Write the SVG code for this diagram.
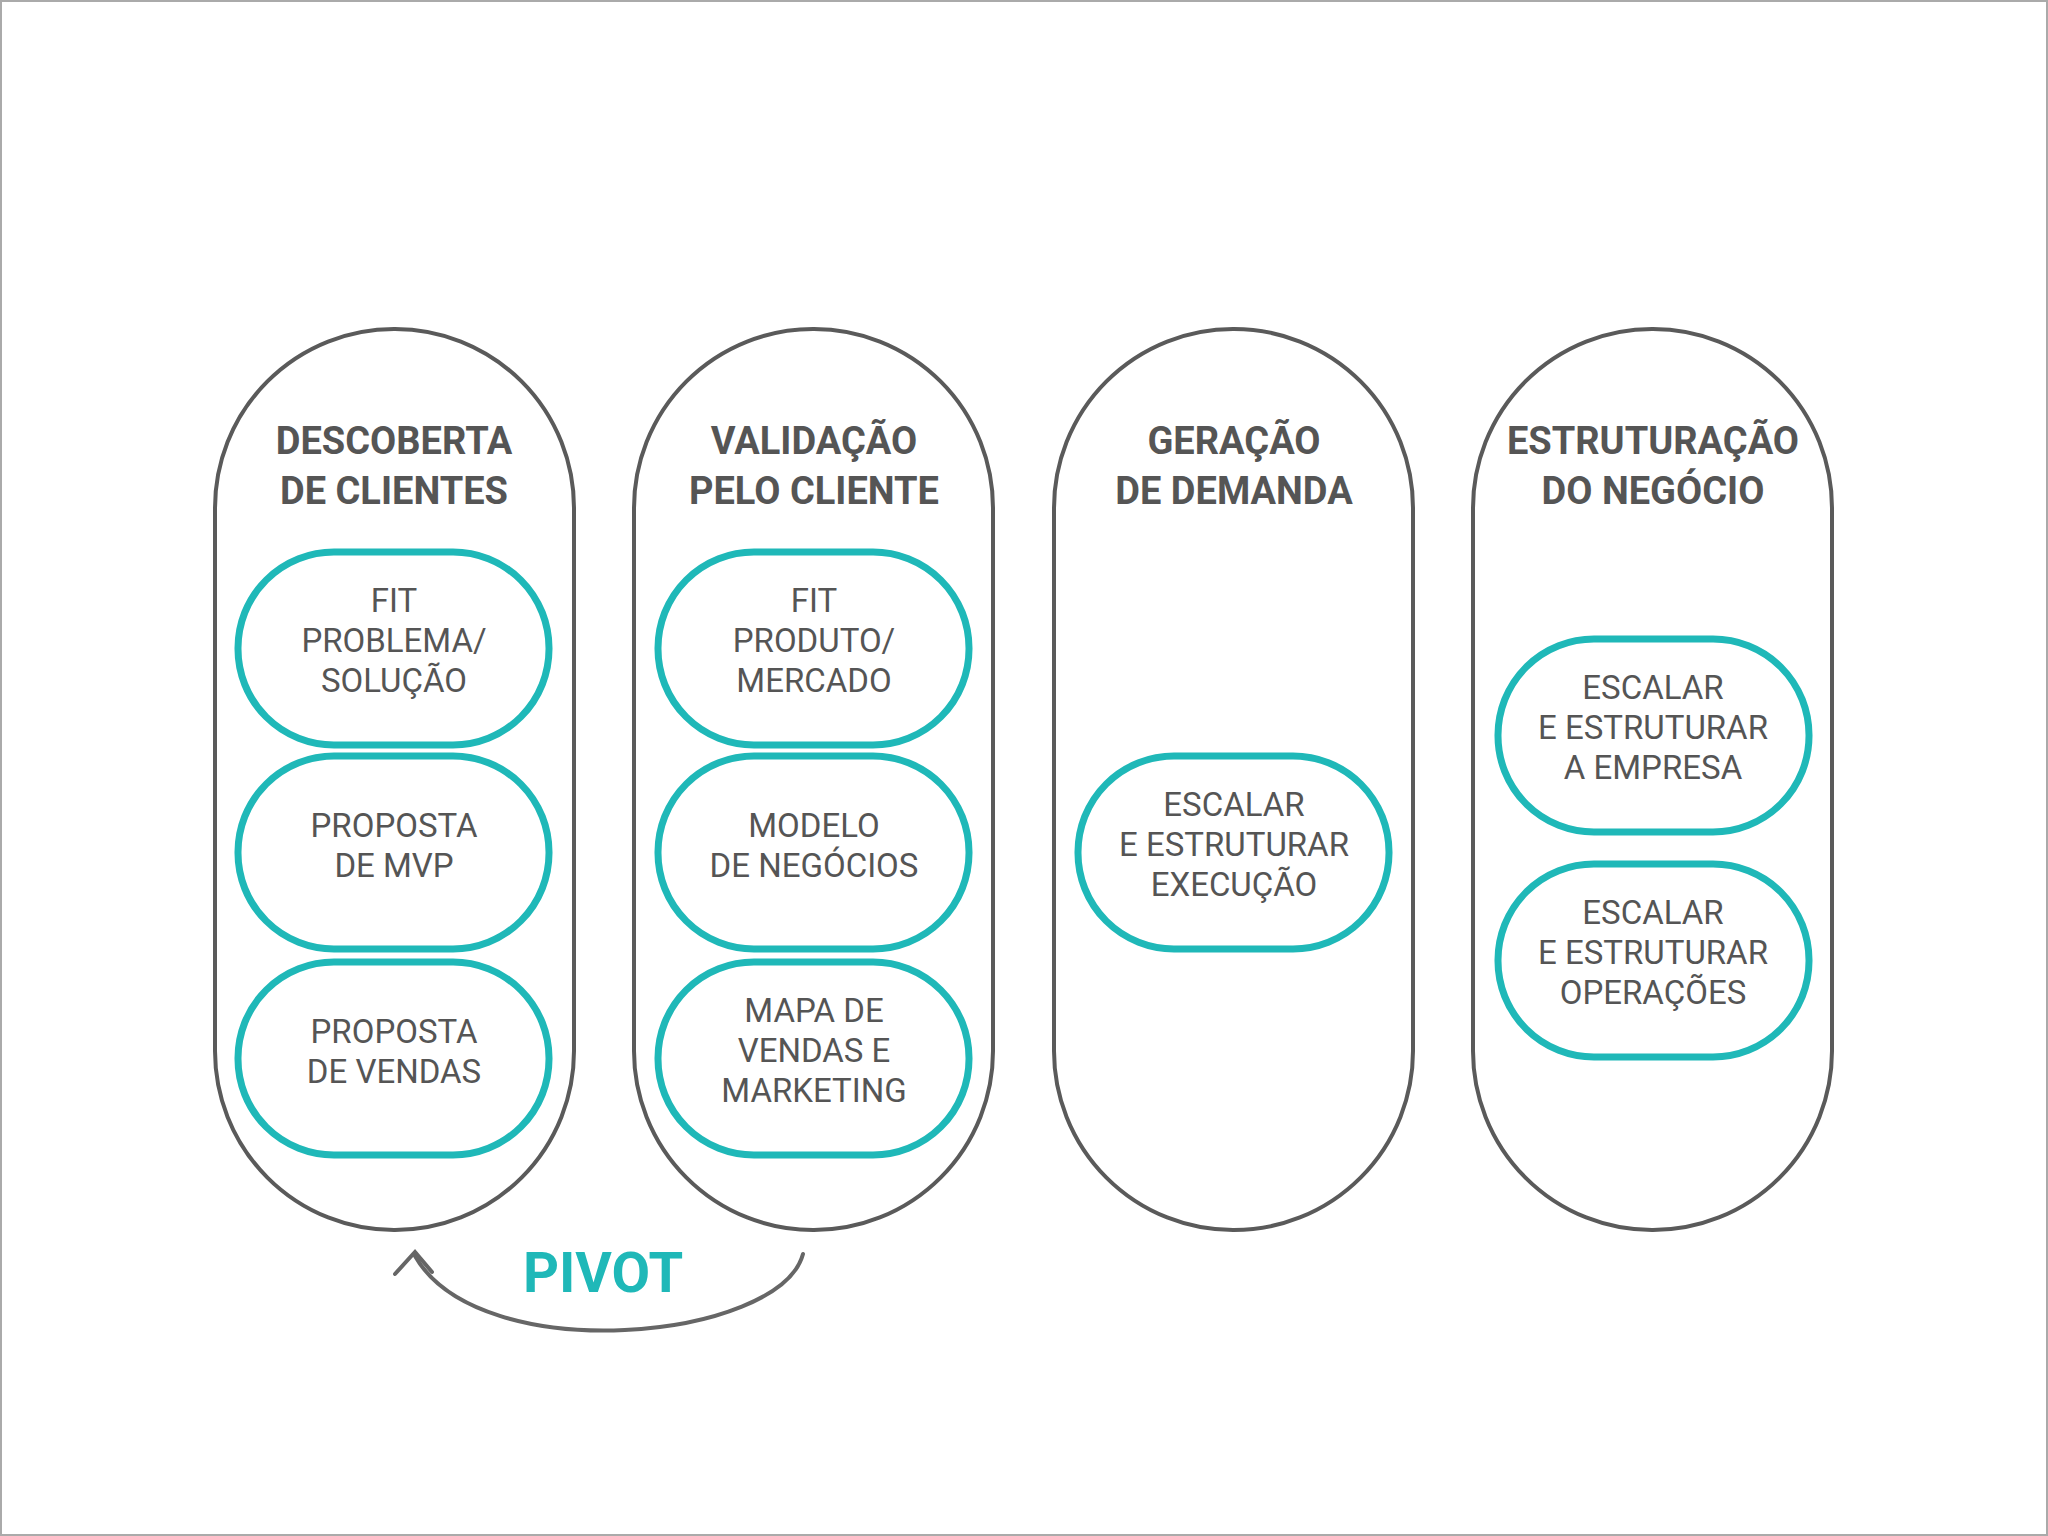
<svg xmlns="http://www.w3.org/2000/svg" width="2048" height="1536" viewBox="0 0 2048 1536">
<style>
.col{fill:none;stroke:#5a5a5a;stroke-width:4}
.in{fill:#fff;stroke:#1fb8b8;stroke-width:7}
.t{font-family:Roboto,"Liberation Sans",sans-serif;font-weight:bold;font-size:38px;fill:#555;text-anchor:middle}
.s{font-family:Roboto,"Liberation Sans",sans-serif;font-size:33px;fill:#555;text-anchor:middle}
</style>
<rect x="1" y="1" width="2046" height="1534" fill="#fff" stroke="#aaa" stroke-width="2"/>
<g id="col1"><rect class="col" x="215" y="329" width="359" height="901" rx="179"/>
<text class="t" x="394" y="454">DESCOBERTA</text><text class="t" x="394" y="504">DE CLIENTES</text></g>
<g id="col2"><rect class="col" x="634" y="329" width="359" height="901" rx="179"/>
<text class="t" x="814" y="454">VALIDAÇÃO</text><text class="t" x="814" y="504">PELO CLIENTE</text></g>
<g id="col3"><rect class="col" x="1054" y="329" width="359" height="901" rx="179"/>
<text class="t" x="1234" y="454">GERAÇÃO</text><text class="t" x="1234" y="504">DE DEMANDA</text></g>
<g id="col4"><rect class="col" x="1473" y="329" width="359" height="901" rx="179"/>
<text class="t" x="1653" y="454">ESTRUTURAÇÃO</text><text class="t" x="1653" y="504">DO NEGÓCIO</text></g>
<g id="n1"><rect class="in" x="238" y="552" width="311" height="193" rx="96"/>
<text class="s" x="394" y="612">FIT</text><text class="s" x="394" y="652">PROBLEMA/</text><text class="s" x="394" y="692">SOLUÇÃO</text></g>
<g id="n2"><rect class="in" x="238" y="756" width="311" height="193" rx="96"/>
<text class="s" x="394" y="837">PROPOSTA</text><text class="s" x="394" y="877">DE MVP</text></g>
<g id="n3"><rect class="in" x="238" y="962" width="311" height="193" rx="96"/>
<text class="s" x="394" y="1043">PROPOSTA</text><text class="s" x="394" y="1083">DE VENDAS</text></g>
<g id="n4"><rect class="in" x="658" y="552" width="311" height="193" rx="96"/>
<text class="s" x="814" y="612">FIT</text><text class="s" x="814" y="652">PRODUTO/</text><text class="s" x="814" y="692">MERCADO</text></g>
<g id="n5"><rect class="in" x="658" y="756" width="311" height="193" rx="96"/>
<text class="s" x="814" y="837">MODELO</text><text class="s" x="814" y="877">DE NEGÓCIOS</text></g>
<g id="n6"><rect class="in" x="658" y="962" width="311" height="193" rx="96"/>
<text class="s" x="814" y="1022">MAPA DE</text><text class="s" x="814" y="1062">VENDAS E</text><text class="s" x="814" y="1102">MARKETING</text></g>
<g id="n7"><rect class="in" x="1078" y="756" width="311" height="193" rx="96"/>
<text class="s" x="1234" y="816">ESCALAR</text><text class="s" x="1234" y="856">E ESTRUTURAR</text><text class="s" x="1234" y="896">EXECUÇÃO</text></g>
<g id="n8"><rect class="in" x="1498" y="639" width="311" height="193" rx="96"/>
<text class="s" x="1653" y="699">ESCALAR</text><text class="s" x="1653" y="739">E ESTRUTURAR</text><text class="s" x="1653" y="779">A EMPRESA</text></g>
<g id="n9"><rect class="in" x="1498" y="864" width="311" height="193" rx="96"/>
<text class="s" x="1653" y="924">ESCALAR</text><text class="s" x="1653" y="964">E ESTRUTURAR</text><text class="s" x="1653" y="1004">OPERAÇÕES</text></g>
<g id="connectors" fill="none" stroke="#666" stroke-width="4" stroke-linecap="round">
<path d="M803 1254 C780 1340 480 1370 415 1256"/>
<path d="M395 1274 L415 1252 L432 1272"/>
</g>
<text x="603" y="1292" font-family="Roboto,'Liberation Sans',sans-serif" font-weight="bold" font-size="56" fill="#1fb8b8" text-anchor="middle">PIVOT</text>
</svg>
